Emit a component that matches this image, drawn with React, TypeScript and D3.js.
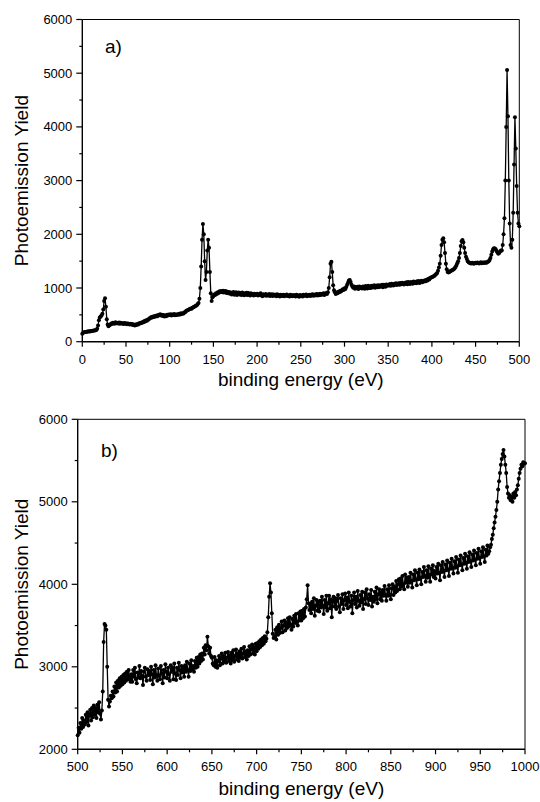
import React from "react";
import * as d3 from "d3";

// Panel a) binding energy 0..500 eV, 1 eV steps
const energyA: number[] = d3.range(0, 501, 1);
const yieldA: number[] = [
  150,165,175,180,182,185,190,188,195,192,
  198,200,205,210,208,215,220,240,300,400,
  450,470,490,520,600,760,808,650,420,320,
  290,310,315,340,330,355,345,335,360,345,
  350,340,358,335,352,340,345,330,348,335,
  345,325,340,335,322,335,318,328,310,320,
  300,318,312,330,322,345,338,355,348,368,
  362,385,378,398,392,415,412,438,440,462,
  452,470,462,478,468,488,472,495,492,512,
  488,500,478,495,468,488,475,500,490,505,
  498,510,488,505,495,515,492,505,498,512,
  502,520,508,528,515,530,525,548,555,575,
  580,590,600,610,620,615,630,640,650,660,
  670,680,700,720,800,1000,1400,1900,2190,2000,
  1500,1150,1300,1700,1900,1750,1300,900,760,830,
  850,880,870,900,890,920,905,940,925,945,
  920,950,915,935,945,905,930,900,925,895,
  915,880,905,925,875,900,920,870,895,915,
  880,905,870,915,890,865,900,875,910,870,
  905,880,860,900,875,890,860,895,870,880,
  895,860,885,870,900,865,845,885,870,860,
  890,855,875,860,890,850,875,885,850,880,
  860,875,845,885,855,870,840,875,860,850,
  875,845,870,855,880,850,860,840,875,855,
  845,870,850,865,840,875,850,860,835,870,
  850,865,840,875,855,860,880,845,870,855,
  875,850,870,885,855,880,860,875,890,860,
  885,865,895,870,890,880,900,870,895,905,
  890,920,1000,1200,1450,1490,1300,1050,960,920,
  890,915,900,930,920,950,935,960,975,965,
  995,980,1020,1060,1100,1140,1150,1110,1060,1030,
  1005,1030,985,1020,995,1025,980,1030,1000,1015,
  990,1030,1000,985,1035,1005,990,1040,1000,1030,
  1000,1040,1010,1030,1050,1005,1035,1045,1015,1050,
  1020,1045,1030,1060,1015,1060,1035,1025,1065,1040,
  1060,1045,1075,1040,1080,1055,1045,1080,1060,1090,
  1055,1075,1090,1060,1095,1070,1100,1075,1065,1100,
  1080,1105,1070,1110,1085,1075,1110,1095,1080,1120,
  1095,1110,1090,1125,1100,1130,1095,1115,1135,1105,
  1130,1120,1145,1125,1155,1140,1170,1160,1185,1195,
  1200,1210,1220,1230,1245,1260,1280,1320,1380,1450,
  1600,1800,1900,1925,1850,1650,1450,1350,1300,1290,
  1300,1310,1320,1330,1340,1350,1370,1390,1420,1460,
  1500,1560,1650,1780,1870,1894,1850,1750,1650,1580,
  1540,1500,1480,1470,1460,1455,1470,1460,1450,1465,
  1470,1460,1475,1465,1455,1470,1480,1460,1470,1475,
  1465,1480,1470,1475,1490,1500,1520,1560,1620,1680,
  1720,1740,1735,1720,1690,1660,1640,1650,1680,1700,
  1700,1800,2000,2300,3000,4000,5060,4200,3000,2200,
  1800,1750,1900,2400,3300,4179,3600,2900,2400,2200,2150,
];

// Panel b) binding energy 500..1000 eV, 1 eV steps
const energyB: number[] = d3.range(500, 1001, 1);
const yieldB: number[] = [
  2170,2260,2200,2320,2250,2380,2270,2350,2300,2420,
  2330,2450,2290,2410,2480,2350,2500,2390,2530,2420,
  2500,2380,2540,2450,2570,2430,2360,2470,2700,3300,
  3519,3500,3450,3000,2600,2520,2580,2650,2620,2700,
  2640,2760,2690,2810,2700,2830,2750,2860,2770,2880,
  2790,2900,2810,2920,2830,2940,2850,2960,2870,2820,
  2910,2820,2960,2880,2990,2850,2800,2930,2870,3010,
  2860,2950,2890,2780,2940,2990,2880,2830,2970,2900,
  2950,2840,3000,2910,2790,2960,2870,3020,2900,2830,
  2980,2890,2850,3010,2920,2800,2960,2870,3030,2940,
  2860,2990,2910,2830,3020,2940,2990,2850,3040,2920,
  2840,2990,2900,3050,2960,2860,3010,2930,2990,2880,
  3020,2940,3060,2960,2880,3040,2950,3080,2970,3010,
  2940,3070,2990,3110,3000,3120,3040,3150,3070,3160,
  3090,3230,3150,3260,3200,3365,3250,3160,3230,3130,
  3110,3040,3020,3120,3000,3080,2990,3070,3130,3020,
  3100,3160,3040,3130,3060,3170,3050,3110,3180,3070,
  3140,3040,3170,3080,3200,3060,3130,3210,3090,3160,
  3070,3190,3110,3220,3100,3160,3240,3120,3190,3090,
  3200,3130,3250,3150,3210,3270,3160,3240,3150,3280,
  3190,3290,3220,3310,3240,3330,3260,3350,3280,3370,
  3310,3340,3420,3600,3850,4012,3900,3650,3400,3350,
  3360,3450,3330,3480,3390,3510,3410,3470,3550,3420,
  3500,3560,3440,3540,3470,3590,3490,3600,3510,3450,
  3580,3490,3620,3530,3640,3540,3500,3650,3560,3670,
  3560,3680,3590,3700,3610,3720,3820,3990,3770,3690,
  3760,3650,3790,3700,3830,3620,3740,3810,3680,3790,
  3670,3800,3720,3850,3740,3640,3810,3720,3860,3680,
  3770,3860,3710,3820,3600,3790,3850,3730,3830,3700,
  3800,3870,3730,3660,3830,3760,3880,3700,3810,3890,
  3750,3840,3710,3900,3790,3730,3860,3650,3810,3900,
  3760,3850,3720,3920,3800,3740,3870,3780,3910,3700,
  3820,3900,3760,3940,3830,3750,3880,3810,3930,3730,
  3850,3790,3910,3820,3960,3770,3880,3940,3820,3900,
  3800,3930,3860,3980,3870,3800,3940,3860,3990,3870,
  3820,3950,4000,3870,3970,3900,4040,3920,4000,4060,
  3940,4070,3970,4100,4000,3940,4120,4020,4080,3970,
  4090,4020,4140,4040,3960,4120,4050,4170,4060,3990,
  4140,4060,4180,4080,4000,4150,4090,4210,4100,4030,
  4170,4080,4220,4110,4030,4190,4120,4230,4090,4160,
  4070,4210,4130,4250,4140,4050,4230,4150,4270,4160,
  4090,4240,4170,4290,4180,4100,4260,4190,4310,4200,
  4130,4280,4200,4330,4220,4140,4300,4230,4350,4240,
  4170,4320,4250,4370,4260,4190,4340,4270,4390,4280,
  4210,4360,4290,4410,4300,4230,4380,4310,4430,4320,
  4250,4400,4330,4450,4340,4270,4420,4350,4470,4370,
  4400,4450,4480,4550,4600,4680,4750,4820,4900,5000,
  5150,5250,5350,5450,5520,5580,5628,5550,5450,5350,
  5180,5100,5050,5080,5020,5060,5000,5100,5050,5120,
  5080,5150,5200,5280,5350,5400,5450,5430,5480,5460,5467,
];

const xTicksA = [0, 50, 100, 150, 200, 250, 300, 350, 400, 450, 500];
const yTicksA = [0, 1000, 2000, 3000, 4000, 5000, 6000];
const xTicksB = [500, 550, 600, 650, 700, 750, 800, 850, 900, 950, 1000];
const yTicksB = [2000, 3000, 4000, 5000, 6000];

const panelLabels = ["a)", "b)"];
const xTitle = "binding energy (eV)";
const yTitle = "Photoemission Yield";

const FONT = "'Liberation Sans', Arial, Helvetica, sans-serif";

type PanelProps = {
  xs: number[];
  ys: number[];
  xDomain: [number, number];
  yDomain: [number, number];
  xTicks: number[];
  yTicks: number[];
  left: number;
  right: number;
  top: number;
  bottom: number;
  label: string;
  labelX: number;
  labelY: number;
  xTitleY: number;
};

function Panel(p: PanelProps) {
  const x = d3.scaleLinear().domain(p.xDomain).range([p.left, p.right]);
  const y = d3.scaleLinear().domain(p.yDomain).range([p.bottom, p.top]);
  const n = Math.min(p.xs.length, p.ys.length);
  const pts: [number, number][] = [];
  for (let i = 0; i < n; i++) pts.push([p.xs[i], p.ys[i]]);
  const line = d3
    .line<[number, number]>()
    .x((d) => x(d[0]))
    .y((d) => y(d[1]));
  const xStep = p.xTicks[1] - p.xTicks[0];
  const yStep = p.yTicks[1] - p.yTicks[0];
  const xMinor = p.xTicks.slice(0, -1).map((t) => t + xStep / 2);
  const yMinor = p.yTicks.slice(0, -1).map((t) => t + yStep / 2);
  return (
    <g>
      {/* frame */}
      <line x1={p.left} x2={p.right} y1={p.top} y2={p.top} stroke="#000" strokeWidth={1} />
      <line x1={p.right} x2={p.right} y1={p.top} y2={p.bottom} stroke="#000" strokeWidth={1} />
      {/* data */}
      <path d={line(pts) || ""} fill="none" stroke="#000" strokeWidth={1.3} />
      {pts.map((d, i) => (
        <circle key={i} cx={x(d[0])} cy={y(d[1])} r={2} fill="#000" />
      ))}
      {/* axes */}
      <line x1={p.left} x2={p.right} y1={p.bottom} y2={p.bottom} stroke="#000" strokeWidth={1.4} />
      <line x1={p.left} x2={p.left} y1={p.top} y2={p.bottom} stroke="#000" strokeWidth={1.4} />
      {p.xTicks.map((t) => (
        <g key={"xt" + t}>
          <line x1={x(t)} x2={x(t)} y1={p.bottom} y2={p.bottom + 5} stroke="#000" strokeWidth={1.2} />
          <text x={x(t)} y={p.bottom + 22} textAnchor="middle" fontSize={13} fontFamily={FONT}>
            {t}
          </text>
        </g>
      ))}
      {xMinor.map((t) => (
        <line key={"xm" + t} x1={x(t)} x2={x(t)} y1={p.bottom} y2={p.bottom + 3} stroke="#000" strokeWidth={1.2} />
      ))}
      {p.yTicks.map((t) => (
        <g key={"yt" + t}>
          <line x1={p.left - 6} x2={p.left} y1={y(t)} y2={y(t)} stroke="#000" strokeWidth={1.2} />
          <text x={p.left - 10} y={y(t)} dy="0.35em" textAnchor="end" fontSize={13} fontFamily={FONT}>
            {t}
          </text>
        </g>
      ))}
      {yMinor.map((t) => (
        <line key={"ym" + t} x1={p.left - 3} x2={p.left} y1={y(t)} y2={y(t)} stroke="#000" strokeWidth={1.2} />
      ))}
      <text x={p.labelX} y={p.labelY} fontSize={19} fontFamily={FONT}>
        {p.label}
      </text>
      <text
        x={(p.left + p.right) / 2}
        y={p.xTitleY}
        textAnchor="middle"
        fontSize={19}
        fontFamily={FONT}
      >
        {xTitle}
      </text>
      <text
        transform={`translate(28,${(p.top + p.bottom) / 2}) rotate(-90)`}
        textAnchor="middle"
        fontSize={19}
        fontFamily={FONT}
      >
        {yTitle}
      </text>
    </g>
  );
}

export default function App() {
  return (
    <svg
      width={540}
      height={802}
      viewBox="0 0 540 802"
      style={{ position: "absolute", left: 0, top: 0, background: "#fff" }}
    >
      <rect x={0} y={0} width={540} height={802} fill="#fff" />
      <Panel
        xs={energyA}
        ys={yieldA}
        xDomain={[0, 500]}
        yDomain={[0, 6000]}
        xTicks={xTicksA}
        yTicks={yTicksA}
        left={82.3}
        right={519.3}
        top={19.5}
        bottom={341.7}
        label={panelLabels[0]}
        labelX={105}
        labelY={53}
        xTitleY={386}
      />
      <Panel
        xs={energyB}
        ys={yieldB}
        xDomain={[500, 1000]}
        yDomain={[2000, 6000]}
        xTicks={xTicksB}
        yTicks={yTicksB}
        left={77.7}
        right={525}
        top={419.3}
        bottom={749.3}
        label={panelLabels[1]}
        labelX={101}
        labelY={457}
        xTitleY={795}
      />
    </svg>
  );
}
